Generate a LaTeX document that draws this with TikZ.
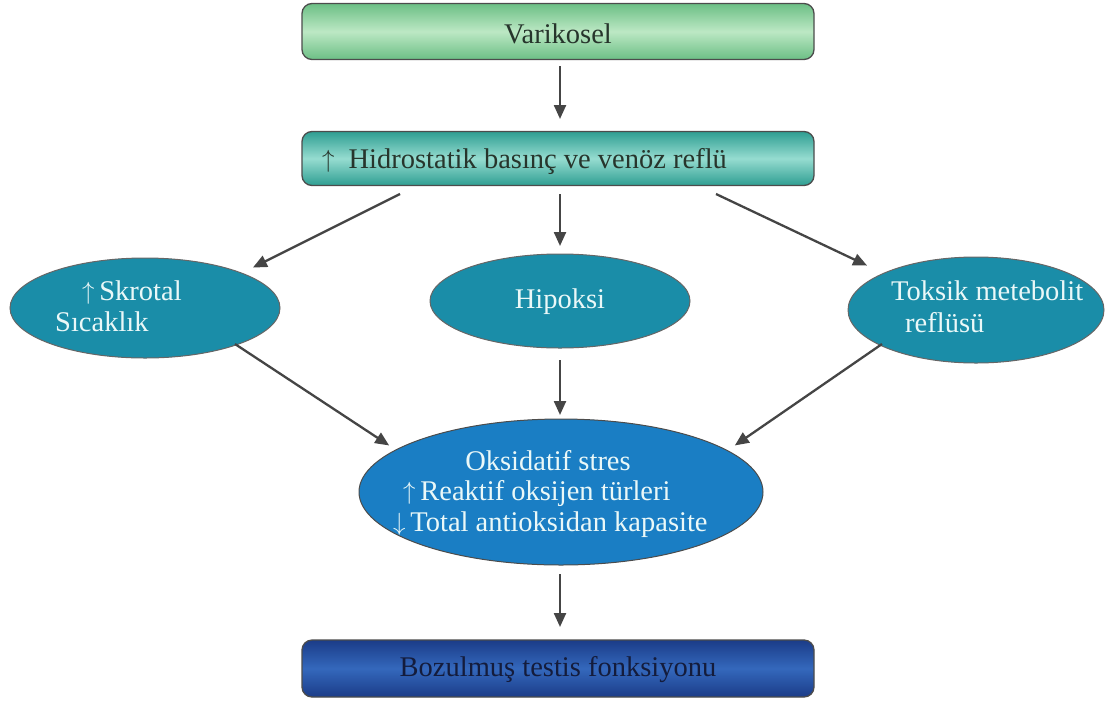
\documentclass[tikz,border=0pt]{standalone}
\usepackage{fontspec}
\setmainfont{Liberation Serif}
\usetikzlibrary{shapes.geometric,arrows.meta}
\definecolor{arr}{HTML}{454545}
\definecolor{gEdge}{HTML}{6CBF85}
\definecolor{gMid}{HTML}{BCE8C4}
\definecolor{tEdge}{HTML}{2E9E92}
\definecolor{tMid}{HTML}{96DCD0}
\definecolor{bEdge}{HTML}{1B3C88}
\definecolor{bMid}{HTML}{3468BC}
\definecolor{ellT}{HTML}{1A8DA8}
\definecolor{ellB}{HTML}{1A7EC4}
\definecolor{boxtxt}{HTML}{27352C}
\definecolor{navytxt}{HTML}{141C3C}
\definecolor{elltxt}{HTML}{EAF8F8}
\newcommand{\upar}{\raisebox{1pt}{\fontsize{30}{30}\selectfont$\uparrow$}}
\newcommand{\dnar}{\raisebox{1pt}{\fontsize{30}{30}\selectfont$\downarrow$}}
\tikzset{
  box/.style={rounded corners=10pt, draw=#1, line width=1.3pt, minimum width=512pt, minimum height=56pt, inner sep=0pt},
  ell/.style={ellipse, draw=#1, line width=1pt, inner sep=0pt},
  txt/.style={font=\fontsize{28.5}{32}\selectfont, inner sep=0pt},
  wtxt/.style={txt, text=elltxt},
  conn/.style={-{Triangle[length=14pt,width=12pt]}, draw=arr, line width=2.3pt, shorten >=1pt}
}
\begin{document}
\begin{tikzpicture}[x=1pt,y=-1pt]
\useasboundingbox (0,0) rectangle (1105,702);
% top box
\node[box=black!70, top color=gEdge, bottom color=gEdge, middle color=gMid] (vari) at (558,31.5) {};
\node[txt, text=boxtxt] (variT) at (558,34) {Varikosel};
% second box
\node[box=black!70, top color=tEdge, bottom color=tEdge, middle color=tMid, minimum height=54pt] (hidro) at (558,158.5) {};
\node[txt, text=boxtxt, anchor=west] (hidroT) at (322,161) {\upar\hspace{14pt}Hidrostatik basınç ve venöz reflü};
% ellipses
\node[ell=black!60, fill=ellT, minimum width=270pt, minimum height=100pt] (skro) at (145,308) {};
\node[wtxt, anchor=base west] (skroA) at (82,300) {\upar\,Skrotal};
\node[wtxt, anchor=base west] (skroB) at (55,331) {Sıcaklık};
\node[ell=black!60, fill=ellT, minimum width=260pt, minimum height=94pt] (hipo) at (560,301) {};
\node[wtxt] (hipoT) at (560,302) {Hipoksi};
\node[ell=black!60, fill=ellT, minimum width=256pt, minimum height=106pt] (toks) at (976,310) {};
\node[wtxt, anchor=base west] (toksA) at (891,300) {Toksik metebolit};
\node[wtxt, anchor=base west] (toksB) at (905,332) {reflüsü};
% big ellipse
\node[ell=black!70, fill=ellB, minimum width=404pt, minimum height=146pt] (oks) at (561,492) {};
\node[wtxt, anchor=base] (oksA) at (548,470) {Oksidatif stres};
\node[wtxt, anchor=base west] (oksB) at (403,500) {\upar\,Reaktif oksijen türleri};
\node[wtxt, anchor=base west] (oksC) at (393,531) {\dnar\,Total antioksidan kapasite};
% bottom box
\node[box=black!70, top color=bEdge, bottom color=bEdge, middle color=bMid, minimum height=57pt] (bozu) at (558,668.5) {};
\node[txt, text=navytxt] (bozuT) at (558,670) {Bozulmuş testis fonksiyonu};
% connectors
\coordinate (a1) at (560,66);
\coordinate (a1e) at (560,120);
\draw[conn] (a1) -- (a1e);
\coordinate (h1) at (400,194);
\coordinate (h2) at (560,194);
\coordinate (h3) at (716,194);
\draw[conn] (h1) -- (252,268);
\draw[conn] (h2) -- (560,247);
\draw[conn] (h3) -- (868,266);
\coordinate (s1) at (235,344);
\coordinate (p1) at (560,360);
\coordinate (t1) at (882,344);
\draw[conn] (s1) -- (390,446);
\draw[conn] (p1) -- (560,416);
\draw[conn] (t1) -- (734,446);
\coordinate (o1) at (560,574);
\draw[conn] (o1) -- (560,628);
\end{tikzpicture}
\end{document}
